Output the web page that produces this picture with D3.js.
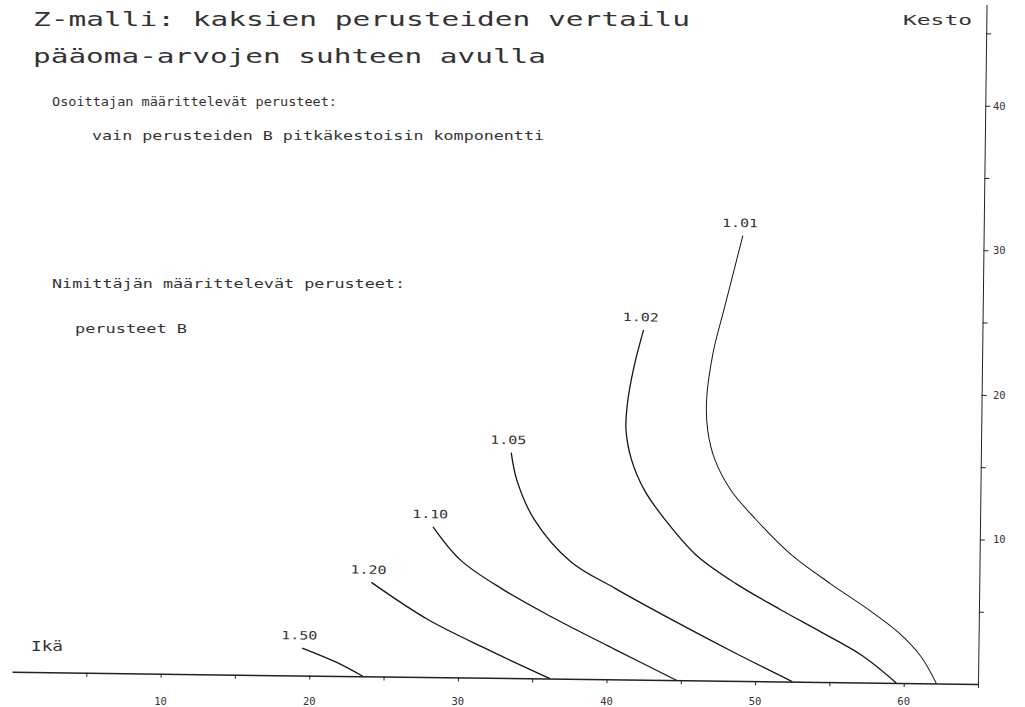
<!DOCTYPE html>
<html>
<head>
<meta charset="utf-8">
<script src="https://cdn.jsdelivr.net/npm/d3@7"></script>
<style>
  body { margin: 0; background: #fff; }
  text { font-family: "DejaVu Sans Mono", monospace; fill: #333; }
  .axis path, .axis line { stroke: #222; }
</style>
</head>
<body>
<div id="vis"></div>
<script>
const FRAME_WIDTH = 1025;
const FRAME_HEIGHT = 707;

// axis ticks and labels
const AGE_TICKS = [5, 10, 15, 20, 25, 30, 35, 40, 45, 50, 55, 60, 65];
const AGE_LABELS = [10, 20, 30, 40, 50, 60];
const DUR_TICKS = [5, 10, 15, 20, 25, 30, 35, 40, 45];
const DUR_LABELS = [10, 20, 30, 40];

// contour levels, one curve per level: [ikä, kesto]
const LEVELS = ["1.01", "1.02", "1.05", "1.10", "1.20", "1.50"];
const C_101 = [[48.8, 30.8], [47.6, 25.7], [46.9, 22.7], [46.5, 19.4], [46.6, 17.3], [47.1, 15.3],
               [48.2, 13.2], [49.9, 11.2], [52.3, 8.8], [55.0, 6.8], [57.5, 5.1], [59.6, 3.5],
               [61.1, 1.9], [62.2, 0]];
const C_102 = [[42.2, 24.2], [41.6, 21.7], [41.2, 19.3], [41.1, 17.3], [41.5, 15.2], [42.4, 13.1],
               [43.8, 11.1], [45.9, 8.7], [48.6, 6.75], [51.6, 5.0], [54.5, 3.4], [57.2, 1.85], [59.5, 0]];
const C_105 = [[33.4, 15.6], [33.8, 13.7], [35.0, 11.0], [37.5, 8.1], [40.5, 6.3], [44.5, 4.1],
               [48.5, 2.0], [52.5, 0]];
const C_110 = [[28.2, 10.4], [30.1, 8.1], [33.0, 6.1], [36.2, 4.3], [40.5, 2.1], [44.7, 0]];
const C_120 = [[24.1, 6.5], [27.9, 4.0], [32.0, 1.95], [36.2, 0]];
const C_150 = [[19.5, 1.9], [21.8, 0.95], [23.6, 0]];
const CURVES = [C_101, C_102, C_105, C_110, C_120, C_150];

const X_SCALE = d3.scaleLinear().domain([0, 65]).range([12, 978]);
const Y_SCALE = d3.scaleLinear().domain([0, 47]).range([684, 4.4]);

const SVG = d3.select("#vis")
              .append("svg")
                .attr("width", FRAME_WIDTH)
                .attr("height", FRAME_HEIGHT);

// the scanned plot is a little skewed, so the plot area is turned slightly
const PLOT = SVG.append("g")
                .attr("transform", "rotate(0.72," + X_SCALE(65) + "," + Y_SCALE(0) + ")");

PLOT.append("g")
    .attr("class", "axis")
    .attr("transform", "translate(0," + Y_SCALE(0) + ")")
    .call(d3.axisBottom(X_SCALE).tickValues(AGE_TICKS).tickSize(4).tickSizeOuter(0).tickFormat(""))
    .call(g => g.select(".domain").attr("stroke-width", 1.5));

PLOT.append("g")
    .attr("class", "axis")
    .attr("transform", "translate(" + X_SCALE(65) + ",0)")
    .call(d3.axisRight(Y_SCALE).tickValues(DUR_TICKS).tickSize(5).tickSizeOuter(0).tickFormat(""))
    .call(g => g.select(".domain").attr("stroke-width", 1));

const LINE = d3.line()
               .x(d => X_SCALE(d[0]))
               .y(d => Y_SCALE(d[1]))
               .curve(d3.curveCatmullRom.alpha(0.5));

PLOT.selectAll(".curve")
    .data(CURVES)
    .enter()
    .append("path")
      .attr("class", "curve")
      .attr("d", d => LINE(d))
      .attr("fill", "none")
      .attr("stroke", "#151515")
      .attr("stroke-width", (d, i) => i == 0 ? 1 : 1.3);

PLOT.selectAll(".lvl")
    .data(CURVES)
    .enter()
    .append("text")
      .attr("class", "lvl")
      .attr("x", d => X_SCALE(d[0][0]) - 3)
      .attr("y", d => Y_SCALE(d[0][1]) - 8.5)
      .attr("text-anchor", "middle")
      .attr("font-size", "11.5px")
      .attr("textLength", 36)
      .attr("lengthAdjust", "spacingAndGlyphs")
      .text((d, i) => LEVELS[i]);

// tick labels sit level on the page
SVG.selectAll(".xl")
    .data(AGE_LABELS)
    .enter()
    .append("text")
      .attr("x", d => X_SCALE(d))
      .attr("y", 705)
      .attr("text-anchor", "middle")
      .attr("font-size", "10.5px")
      .text(d => d);

SVG.selectAll(".yl")
    .data(DUR_LABELS)
    .enter()
    .append("text")
      .attr("x", 993)
      .attr("y", d => Y_SCALE(d) + 4)
      .attr("font-size", "10.5px")
      .text(d => d);

// texts
function label(str, x, y, size, len) {
  SVG.append("text")
     .attr("x", x)
     .attr("y", y)
     .attr("font-size", size + "px")
     .attr("textLength", len)
     .attr("lengthAdjust", "spacingAndGlyphs")
     .text(str);
}

label("Z-malli: kaksien perusteiden vertailu", 33, 26, 20, 657);
label("pääoma-arvojen suhteen avulla", 33, 63, 20, 513);
label("Osoittajan määrittelevät perusteet:", 52, 106, 11.5, 285);
label("vain perusteiden B pitkäkestoisin komponentti", 92, 140, 11.5, 452);
label("Nimittäjän määrittelevät perusteet:", 52, 288, 11.5, 353);
label("perusteet B", 75, 333, 11.5, 112);
label("Kesto", 903, 25, 14, 69);
label("Ikä", 31, 651, 14.5, 32);
</script>
</body>
</html>
